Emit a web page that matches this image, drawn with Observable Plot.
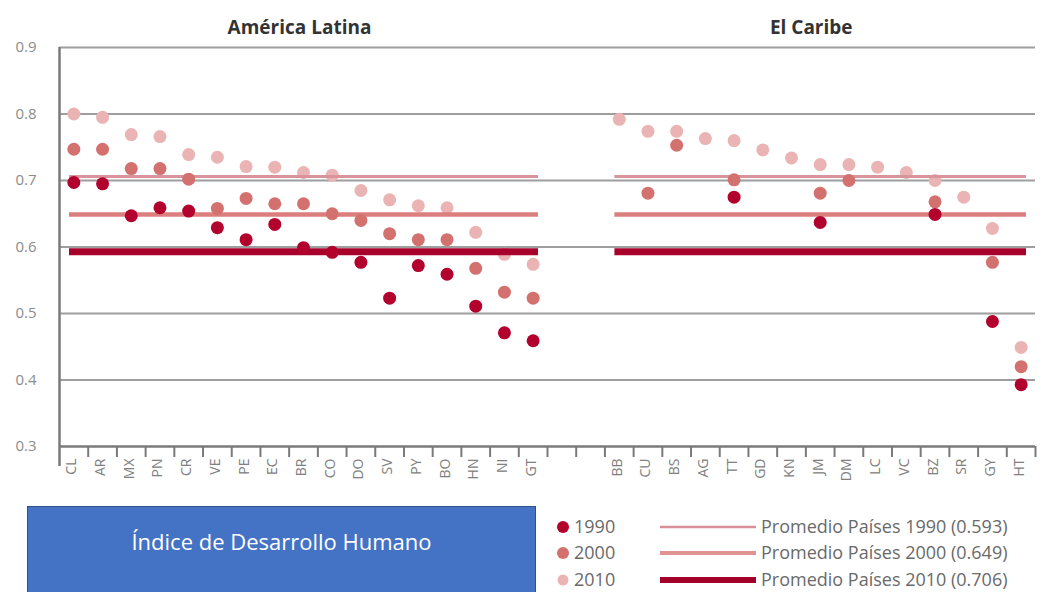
<!DOCTYPE html>
<html>
<head>
<meta charset="utf-8">
<script src="https://cdn.jsdelivr.net/npm/d3@7"></script>
<script src="https://cdn.jsdelivr.net/npm/@observablehq/plot@0.6"></script>
<style>
  body { margin: 0; background: #fff; }
  #wrap { position: relative; width: 1048px; height: 592px; overflow: hidden; font-family: "Open Sans", sans-serif; background: #fff; }
  #chart { position: absolute; left: 0; top: 0; }
  #box { position: absolute; left: 27px; top: 506px; width: 509px; height: 92px; background: #4472c4; border: 1.5px solid #2f528f; box-sizing: border-box; color: #fff; font-size: 22px; text-align: center; line-height: 68px; }
  .lg { position: absolute; font-size: 18px; color: #6a6a6a; white-space: nowrap; line-height: 1; }
</style>
</head>
<body>
<div id="wrap">
  <div id="chart"></div>
  <div id="box"></div>
</div>
<script>
// ---- Data ----
const panelTitles = ["América Latina", "El Caribe"];
const categoriesLA = ["CL","AR","MX","PN","CR","VE","PE","EC","BR","CO","DO","SV","PY","BO","HN","NI","GT"];
const idh1990LA = [0.697,0.695,0.647,0.659,0.654,0.629,0.611,0.634,0.599,0.592,0.577,0.523,0.572,0.559,0.511,0.471,0.459];
const idh2000LA = [0.747,0.747,0.718,0.718,0.702,0.658,0.673,0.665,0.665,0.650,0.640,0.620,0.611,0.611,0.568,0.532,0.523];
const idh2010LA = [0.800,0.795,0.769,0.766,0.739,0.735,0.721,0.720,0.712,0.708,0.685,0.671,0.662,0.659,0.622,0.589,0.574];

const categoriesCA = ["BB","CU","BS","AG","TT","GD","KN","JM","DM","LC","VC","BZ","SR","GY","HT"];
const idh1990CA = [null,null,null,null,0.675,null,null,0.637,null,null,null,0.649,null,0.488,0.393];
const idh2000CA = [null,0.681,0.753,null,0.701,null,null,0.681,0.700,null,null,0.668,null,0.577,0.420];
const idh2010CA = [0.792,0.774,0.774,0.763,0.760,0.746,0.734,0.724,0.724,0.720,0.712,0.700,0.675,0.628,0.449];

const years = ["1990","2000","2010"];
const averages = [0.593, 0.649, 0.706];
const yTicks = [0.3,0.4,0.5,0.6,0.7,0.8,0.9];
const boxText = "Índice de Desarrollo Humano";

// ---- Styles ----
const dotColor = {"1990": "#b3012e", "2000": "#d3716f", "2010": "#ebb4b4"};
// average line styles as drawn in the chart (0.593 thick dark, 0.649 medium, 0.706 thin)
const avgLineStyle = {
  "0.593": {stroke: "#a8012b", width: 7},
  "0.649": {stroke: "#db7e7d", width: 4.5},
  "0.706": {stroke: "#d9939b", width: 3}
};
// legend line styles as shown in the legend
const legendLineStyle = {
  "1990": {stroke: "#d98f98", width: 2.5},
  "2000": {stroke: "#e09391", width: 4},
  "2010": {stroke: "#a3012a", width: 6}
};

// ---- Build tables ----
const blanks = ["_a","_b"];
const domainX = [...categoriesLA, ...blanks, ...categoriesCA];
const rows = [];
function addRows(cats, vals, year) {
  cats.forEach((c, i) => { if (vals[i] != null) rows.push({cat: c, year, value: vals[i]}); });
}
addRows(categoriesLA, idh1990LA, "1990");
addRows(categoriesLA, idh2000LA, "2000");
addRows(categoriesLA, idh2010LA, "2010");
addRows(categoriesCA, idh1990CA, "1990");
addRows(categoriesCA, idh2000CA, "2000");
addRows(categoriesCA, idh2010CA, "2010");

const segs = [];
averages.forEach(v => {
  [categoriesLA, categoriesCA].forEach(p => {
    segs.push({x1: p[0], x2: p[p.length - 1], value: v, key: v.toFixed(3)});
  });
});

const W = 1048, H = 500, ML = 59, MR = 13, MT = 47, MB = 54;
const bw = (W - ML - MR) / domainX.length;

const segMarks = Object.keys(avgLineStyle).map(k => Plot.ruleY(segs.filter(s => s.key === k), {
  x1: "x1", x2: "x2", y: "value", insetLeft: 10, insetRight: 9,
  stroke: avgLineStyle[k].stroke, strokeWidth: avgLineStyle[k].width, strokeLinecap: "butt"
}));

const dotMark = y => Plot.dot(rows.filter(r => r.year === y), {
  x: "cat", y: "value", r: 6.5, fill: dotColor[y], stroke: "none"
});

const titleMark = (cat, label, dx) => Plot.text([{cat, label}], {
  x: "cat", text: "label", frameAnchor: "top", lineAnchor: "middle", dy: -20, dx,
  fontSize: 19, fontWeight: "bold", fill: "#333"
});

const chart = Plot.plot({
  width: W, height: H,
  marginLeft: ML, marginRight: MR, marginTop: MT, marginBottom: MB,
  style: {fontFamily: "Open Sans, sans-serif", background: "transparent", overflow: "visible"},
  x: {type: "band", domain: domainX, padding: 0, round: false, axis: null},
  y: {domain: [0.3, 0.9], axis: null},
  marks: [
    Plot.ruleY(yTicks.filter(t => t > 0.3), {stroke: "#9e9e9e", strokeWidth: 2}),
    Plot.ruleY([0.3], {stroke: "#7a7a7a", strokeWidth: 2.5}),
    Plot.ruleX([domainX[0]], {dx: -bw / 2, y1: 0.9, y2: 0.3, insetBottom: -20, stroke: "#7a7a7a", strokeWidth: 2.5}),
    Plot.ruleX(domainX, {dx: bw / 2, y1: 0.3, y2: 0.3, insetBottom: -11, stroke: "#7a7a7a", strokeWidth: 2}),
    Plot.axisX({
      tickSize: 0, tickRotate: -90, tickPadding: 12, label: null,
      tickFormat: d => d.startsWith("_") ? "" : d,
      fontSize: 14, fill: "#808080", dx: -2
    }),
    Plot.axisY({
      ticks: yTicks, tickSize: 0, tickPadding: 23, tickFormat: d3.format(".1f"), label: null,
      fontSize: 15, fill: "#8c8c8c"
    }),
    dotMark("2010"),
    ...segMarks,
    dotMark("2000"),
    dotMark("1990"),
    titleMark(categoriesLA[8], panelTitles[0], -4),
    titleMark(categoriesCA[7], panelTitles[1], -9)
  ]
});
document.getElementById("chart").appendChild(chart);
document.getElementById("box").textContent = boxText;

// ---- Legend ----
const wrap = document.getElementById("wrap");
const rowY = [527, 553, 580];
years.forEach((y, i) => {
  const cy = rowY[i];
  const s = document.createElementNS("http://www.w3.org/2000/svg", "svg");
  s.setAttribute("width", "210"); s.setAttribute("height", "20");
  s.style.position = "absolute"; s.style.left = "550px"; s.style.top = (cy - 10) + "px";
  const c = document.createElementNS("http://www.w3.org/2000/svg", "circle");
  c.setAttribute("cx", "13"); c.setAttribute("cy", "10"); c.setAttribute("r", i === 2 ? "5.5" : "6");
  c.setAttribute("fill", dotColor[y]);
  s.appendChild(c);
  const ln = document.createElementNS("http://www.w3.org/2000/svg", "line");
  ln.setAttribute("x1", "110"); ln.setAttribute("x2", "206"); ln.setAttribute("y1", "10"); ln.setAttribute("y2", "10");
  ln.setAttribute("stroke", legendLineStyle[y].stroke); ln.setAttribute("stroke-width", legendLineStyle[y].width);
  s.appendChild(ln);
  wrap.appendChild(s);
  const t1 = document.createElement("div");
  t1.className = "lg"; t1.textContent = y;
  t1.style.left = "574px"; t1.style.top = (cy - 10) + "px";
  wrap.appendChild(t1);
  const t2 = document.createElement("div");
  t2.className = "lg"; t2.textContent = `Promedio Países ${y} (${averages[i].toFixed(3)})`;
  t2.style.left = "761px"; t2.style.top = (cy - 10) + "px";
  wrap.appendChild(t2);
});
</script>
</body>
</html>
